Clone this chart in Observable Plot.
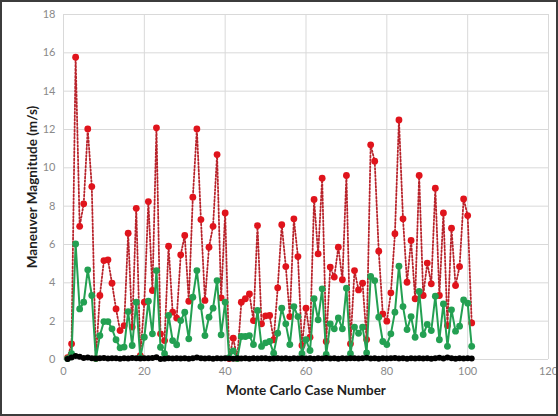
<!DOCTYPE html>
<html>
<head>
<meta charset="utf-8">
<script src="https://cdn.jsdelivr.net/npm/d3@7"></script>
<script src="https://cdn.jsdelivr.net/npm/@observablehq/plot@0.6"></script>
<style>
  html, body { margin: 0; padding: 0; background: #fff; }
  #wrap { position: relative; width: 558px; height: 416px; overflow: hidden; }
  #wrap svg { position: absolute; left: 0; top: 0; }
  #frame { position: absolute; left: 0; top: 0; width: 558px; height: 416px; box-sizing: border-box; border: 2px solid #3c3c3c; pointer-events: none; }
</style>
</head>
<body>
<div id="wrap"><div id="frame"></div></div>
<script>
const xLabel = "Monte Carlo Case Number";
const yLabel = "Maneuver Magnitude (m/s)";
const xTicks = [0, 20, 40, 60, 80, 100, 120];
const yTicks = [0, 2, 4, 6, 8, 10, 12, 14, 16, 18];

const cases = d3.range(1, 102);

const redValues = [
  0.10,0.82,15.77,6.95,8.12,12.03,9.02,0.05,3.34,5.16,
  5.20,3.98,2.64,1.51,1.77,6.59,1.69,7.89,0.20,2.99,
  8.24,3.60,12.09,1.34,0.99,5.91,2.47,2.16,5.46,6.47,
  3.04,8.47,12.03,7.30,3.08,5.86,6.95,10.69,3.22,7.65,
  0.05,1.11,0.05,2.99,3.17,3.42,2.03,6.99,1.86,2.28,
  2.30,1.03,3.74,7.03,4.85,2.24,7.34,5.37,0.73,2.68,
  1.16,8.35,5.51,9.46,0.94,4.82,4.30,5.86,4.16,9.60,
  0.82,4.64,3.63,3.98,1.04,11.20,10.35,5.65,2.38,2.00,
  3.48,6.56,12.50,7.34,4.03,6.21,3.17,9.60,3.34,5.03,
  3.95,8.94,3.34,7.65,1.77,6.85,3.86,4.85,8.38,7.51,
  1.91
];

const greenValues = [
  0.05,0.30,6.03,2.64,2.99,4.68,3.34,0.05,1.25,1.98,
  1.98,1.60,1.03,0.61,0.65,2.50,0.73,2.99,0.10,1.16,
  3.04,1.34,4.64,0.64,0.30,2.30,0.99,0.77,2.03,2.47,
  1.08,3.25,4.64,2.76,1.25,2.21,2.68,4.12,1.29,2.99,
  0.10,0.45,0.05,1.20,1.20,1.25,0.78,2.56,0.68,0.87,
  0.94,0.33,1.37,2.68,1.86,0.78,2.76,2.24,0.30,1.03,
  0.47,3.17,2.07,3.69,0.26,1.86,1.60,2.17,1.60,3.72,
  0.30,1.69,1.37,1.69,0.35,4.33,4.12,2.21,0.94,0.78,
  1.34,2.47,4.87,2.76,1.56,2.24,1.16,3.55,1.30,1.83,
  1.51,3.30,1.03,2.90,0.69,2.59,1.48,1.74,3.11,2.94,
  0.69
];

const blackValues = [
  0.02,0.10,0.18,0.14,0.08,0.10,0.07,0.05,0.06,0.08,
  0.05,0.07,0.06,0.04,0.07,0.05,0.08,0.06,0.05,0.07,
  0.06,0.08,0.12,0.03,0.04,0.06,0.05,0.07,0.05,0.06,
  0.04,0.07,0.10,0.06,0.05,0.07,0.04,0.06,0.05,0.07,
  0.05,0.04,0.06,0.05,0.07,0.04,0.06,0.05,0.07,0.06,
  0.04,0.05,0.07,0.05,0.06,0.04,0.07,0.05,0.06,0.05,
  0.07,0.04,0.06,0.05,0.08,0.05,0.06,0.04,0.07,0.05,
  0.06,0.07,0.05,0.06,0.09,0.05,0.06,0.04,0.07,0.05,
  0.06,0.08,0.05,0.07,0.04,0.06,0.05,0.07,0.05,0.06,
  0.04,0.07,0.09,0.05,0.10,0.06,0.04,0.07,0.05,0.06,
  0.05
];

const data = cases.map((c, i) => ({case: c, red: redValues[i], green: greenValues[i], black: blackValues[i]}));

const FONT = "Lato, 'Open Sans', sans-serif";

const chart = Plot.plot({
  width: 558,
  height: 416,
  marginTop: 14,
  marginBottom: 57,
  marginLeft: 63,
  marginRight: 10,
  style: {fontFamily: FONT, background: "transparent", overflow: "visible"},
  x: {domain: [0, 120]},
  y: {domain: [0, 18]},
  marks: [
    Plot.gridX(xTicks, {stroke: "#d9d9d9", strokeOpacity: 1, strokeWidth: 1}),
    Plot.gridY(yTicks, {stroke: "#d9d9d9", strokeOpacity: 1, strokeWidth: 1}),
    Plot.axisX(xTicks, {tickSize: 0, tickPadding: 8, fill: "#8a8a8a", fontSize: 11, label: null}),
    Plot.axisY(yTicks, {tickSize: 0, tickPadding: 8, fill: "#8a8a8a", fontSize: 11, label: null}),
    Plot.line(data, {x: "case", y: "red", stroke: "#b8232b", strokeWidth: 1.8, strokeDasharray: "1.6,2"}),
    Plot.dot(data, {x: "case", y: "red", r: 3.4, fill: "#e0141c", stroke: "none"}),
    Plot.line(data, {x: "case", y: "green", stroke: "#23a052", strokeWidth: 2}),
    Plot.dot(data, {x: "case", y: "green", r: 3.4, fill: "#23a052", stroke: "none"}),
    Plot.line(data, {x: "case", y: "black", stroke: "#000", strokeWidth: 2.5}),
    Plot.dot(data, {x: "case", y: "black", r: 3, fill: "#000", stroke: "none"}),
    Plot.text([xLabel], {frameAnchor: "bottom", dy: 35, fontSize: 13.5, fontWeight: "bold", fill: "#1e1e1e", fontFamily: FONT}),
    Plot.text([yLabel], {frameAnchor: "left", dx: -31, rotate: -90, textAnchor: "middle", fontSize: 13.5, fontWeight: "bold", fill: "#1e1e1e", fontFamily: FONT})
  ]
});

document.getElementById("wrap").insertBefore(chart, document.getElementById("frame"));
</script>
</body>
</html>
